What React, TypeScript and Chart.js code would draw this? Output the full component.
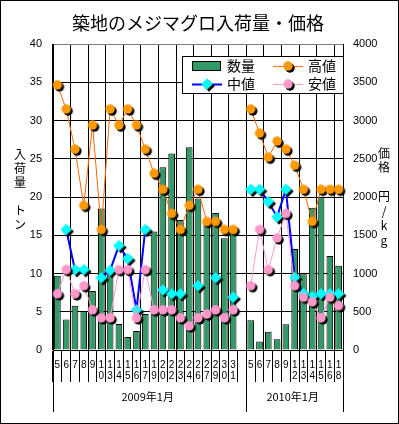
import React, { useEffect, useRef } from 'react';
import { Chart, registerables } from 'chart.js';

Chart.register(...registerables);

const TITLE = '築地のメジマグロ入荷量・価格';
const DAYS_2009 = ['5', '6', '7', '8', '9', '10', '13', '14', '15', '16', '17', '19', '20', '22', '23', '24', '26', '27', '29', '30', '31'];
const DAYS_2010 = ['5', '6', '7', '8', '9', '12', '13', '14', '15', '16', '18'];
const CATEGORIES = [...DAYS_2009, '', ...DAYS_2010];
const GROUP_LABELS = ['2009年1月', '2010年1月'];
const GROUP_SIZES = [DAYS_2009.length + 1, DAYS_2010.length];

const SERIES_NAMES = ['数量', '高値', '中値', '安値'];
// tons
const QUANTITY = [9.7, 4.0, 5.8, 5.1, 7.7, 18.5, 10.2, 3.4, 1.7, 2.5, 4.7, 15.5, 23.9, 25.7, 17.0, 26.5, 19.8, 16.7, 17.9, 14.6, 15.4, null,
  3.9, 1.1, 2.4, 1.4, 3.35, 13.2, 9.9, 18.6, 20.0, 12.3, 11.0];
// yen / kg
const HIGH = [3465, 3150, 2625, 1890, 2940, 1575, 3150, 2940, 3150, 2940, 2625, 2310, 2100, 1785, 1575, 1890, 2100, 1680, 1680, 1575, 1575, null,
  3150, 2835, 2520, 2730, 2625, 2415, 2100, 1680, 2100, 2100, 2100];
const MID = [null, 1575, 1050, 1050, null, 945, 1040, 1365, 1195, 525, 1575, null, 785, 735, 735, null, 840, null, 945, null, 690, null,
  2100, 2100, 1940, 1740, 2100, 950, 740, 700, 735, 735, 735];
const LOW = [735, 1050, 735, 840, 525, 420, 420, 1050, 1050, 420, 1050, 525, 525, 525, 420, 315, 420, 470, 525, 420, 525, null,
  840, 1575, 1050, 1465, 1785, 840, 690, 630, 420, 690, 580];

const LEFT_MAX = 40;
const LEFT_STEP = 5;
const RIGHT_MAX = 4000;
const RIGHT_STEP = 500;
const LEFT_TITLE = ['入', '荷', '量', '', 'ト', 'ン'];
const RIGHT_TITLE = ['価', '格', '', '円', '/', 'k', 'g'];

const JP = '"Noto Sans CJK JP", sans-serif';
const NUM = '"Liberation Sans", Arial, sans-serif';

function makeMarker(shape: 'circle' | 'diamond', fill: string, r: number): HTMLCanvasElement {
  const c = document.createElement('canvas');
  const size = 2 * Math.ceil(r + 4);
  c.width = size;
  c.height = size;
  const g = c.getContext('2d')!;
  const cx = size / 2;
  const cy = size / 2;
  const draw = (x: number, y: number, color: string) => {
    g.fillStyle = color;
    g.beginPath();
    if (shape === 'circle') {
      g.arc(x, y, r, 0, Math.PI * 2);
    } else {
      g.moveTo(x, y - r);
      g.lineTo(x + r, y);
      g.lineTo(x, y + r);
      g.lineTo(x - r, y);
      g.closePath();
    }
    g.fill();
  };
  draw(cx + 2, cy + 2, '#000000');
  draw(cx, cy, fill);
  return c;
}

export default function App() {
  const ref = useRef<HTMLCanvasElement | null>(null);

  useEffect(() => {
    if (!ref.current) return;
    const highMarker = makeMarker('circle', '#FF9900', 4.7);
    const midMarker = makeMarker('diamond', '#00FFFF', 5.8);
    const lowMarker = makeMarker('circle', '#FF99CC', 4.7);

    const decor = {
      id: 'decor',
      afterDraw(chart: any) {
        const { ctx, chartArea, scales } = chart;
        const xs = scales.x;
        ctx.save();
        ctx.fillStyle = '#000';
        ctx.textAlign = 'center';
        ctx.textBaseline = 'middle';
        // title
        ctx.font = `18px ${JP}`;
        ctx.fillText(TITLE, 198, 23);
        // axis titles (vertical)
        ctx.font = `12px ${JP}`;
        LEFT_TITLE.forEach((ch, i) => ctx.fillText(ch, 20, 154 + i * 14));
        RIGHT_TITLE.forEach((ch, i) => ctx.fillText(ch, 384, 153 + i * 14.5));

        // group separators & labels
        const half = (xs.getPixelForValue(1) - xs.getPixelForValue(0)) / 2;
        const boundary = (i: number) => xs.getPixelForValue(i) - half;
        ctx.strokeStyle = '#000';
        ctx.lineWidth = 1;
        let start = 0;
        const edges = [0];
        GROUP_SIZES.forEach((n) => { start += n; edges.push(start); });
        edges.forEach((e) => {
          const px = Math.round(boundary(e)) + 0.5;
          ctx.beginPath();
          ctx.moveTo(px, chartArea.bottom);
          ctx.lineTo(px, 412);
          ctx.stroke();
        });
        ctx.font = `11px ${JP}`;
        GROUP_LABELS.forEach((lab, gi) => {
          const a = boundary(edges[gi]);
          const b = boundary(edges[gi + 1]);
          ctx.fillText(lab, (a + b) / 2 - 2, 397);
        });

        // legend
        const lx = 182, ly = 56, lw = 161, lh = 37;
        ctx.fillStyle = '#fff';
        ctx.fillRect(lx, ly, lw, lh);
        ctx.strokeStyle = '#000';
        ctx.strokeRect(lx + 0.5, ly + 0.5, lw, lh);
        const ds = chart.data.datasets;
        const items = [
          { d: 0, sx: 192, tx: 227, y: 66 },
          { d: 1, sx: 273, tx: 308, y: 66 },
          { d: 2, sx: 192, tx: 227, y: 84 },
          { d: 3, sx: 273, tx: 308, y: 84 },
        ];
        ctx.textAlign = 'left';
        ctx.font = `14px ${JP}`;
        items.forEach((it) => {
          const d = ds[it.d];
          if (d.type === 'bar') {
            ctx.fillStyle = d.backgroundColor;
            ctx.fillRect(it.sx, it.y - 5, 29, 10);
            ctx.strokeStyle = '#000';
            ctx.strokeRect(it.sx + 0.5, it.y - 5 + 0.5, 28, 9);
          } else {
            ctx.strokeStyle = d.borderColor;
            ctx.lineWidth = d.borderWidth;
            ctx.beginPath();
            ctx.moveTo(it.sx, it.y + 0.5);
            ctx.lineTo(it.sx + 30, it.y + 0.5);
            ctx.stroke();
            const m = d.pointStyle as HTMLCanvasElement;
            ctx.drawImage(m, it.sx + 15 - m.width / 2, it.y - m.height / 2);
            ctx.lineWidth = 1;
          }
          ctx.fillStyle = '#000';
          ctx.fillText(SERIES_NAMES[it.d], it.tx, it.y);
        });

        // outer frame
        ctx.strokeStyle = '#000';
        ctx.strokeRect(0.5, 0.5, chart.width - 1, chart.height - 1);
        ctx.restore();
      },
    };

    const chart = new Chart(ref.current, {
      type: 'bar',
      data: {
        labels: CATEGORIES,
        datasets: [
          {
            type: 'bar', label: SERIES_NAMES[0], data: QUANTITY, yAxisID: 'y',
            backgroundColor: '#339966', borderColor: '#000', borderWidth: 1,
            barPercentage: 0.76, categoryPercentage: 1, order: 10,
          } as any,
          {
            type: 'line', label: SERIES_NAMES[1], data: HIGH, yAxisID: 'y1',
            borderColor: '#FF6600', borderWidth: 1, pointStyle: highMarker, pointRadius: 5,
            spanGaps: false, order: 3,
          },
          {
            type: 'line', label: SERIES_NAMES[2], data: MID, yAxisID: 'y1',
            borderColor: '#0000FF', borderWidth: 2, pointStyle: midMarker, pointRadius: 6,
            spanGaps: false, order: 2,
          },
          {
            type: 'line', label: SERIES_NAMES[3], data: LOW, yAxisID: 'y1',
            borderColor: '#FF99CC', borderWidth: 1, pointStyle: lowMarker, pointRadius: 5,
            spanGaps: false, order: 1,
          },
        ],
      },
      options: {
        animation: false,
        responsive: true,
        maintainAspectRatio: false,
        layout: { padding: { top: 44, left: 0, right: 0, bottom: 0 } },
        plugins: { legend: { display: false }, title: { display: false }, tooltip: { enabled: false } },
        scales: {
          x: {
            type: 'category',
            offset: true,
            grid: {
              offset: true,
              color: (c: any) => (typeof c.index === 'number' && c.index % 2 === 0 ? '#000' : 'rgba(0,0,0,0)'),
              tickColor: '#000',
              tickLength: 32,
              lineWidth: 1,
            },
            border: { color: '#000' },
            ticks: {
              autoSkip: false, maxRotation: 0, minRotation: 0, padding: -23, color: '#000',
              font: { family: NUM, size: 10, lineHeight: 1.15 },
              callback: (_v: any, i: number) => CATEGORIES[i].split(''),
            },
            afterFit: (s: any) => { s.height = 74; },
          },
          y: {
            position: 'left', min: 0, max: LEFT_MAX,
            ticks: { stepSize: LEFT_STEP, color: '#000', padding: 11, font: { family: NUM, size: 11 } },
            grid: { color: (c: any) => (c.tick && c.tick.value === LEFT_MAX ? '#808080' : '#000'), drawTicks: false },
            border: { color: '#000' },
            afterFit: (s: any) => { s.width = 53; },
          },
          y1: {
            position: 'right', min: 0, max: RIGHT_MAX,
            ticks: {
              stepSize: RIGHT_STEP, color: '#000', padding: 10, font: { family: NUM, size: 11 },
              callback: (v: any) => String(v),
            },
            grid: { drawOnChartArea: false, drawTicks: false },
            border: { color: '#000' },
            afterFit: (s: any) => { s.width = 56; },
          },
        },
      } as any,
      plugins: [decor],
    });
    return () => chart.destroy();
  }, []);

  return (
    <div style={{ position: 'fixed', left: 0, top: 0, width: 399, height: 424, background: '#fff' }}>
      <canvas ref={ref} />
    </div>
  );
}
